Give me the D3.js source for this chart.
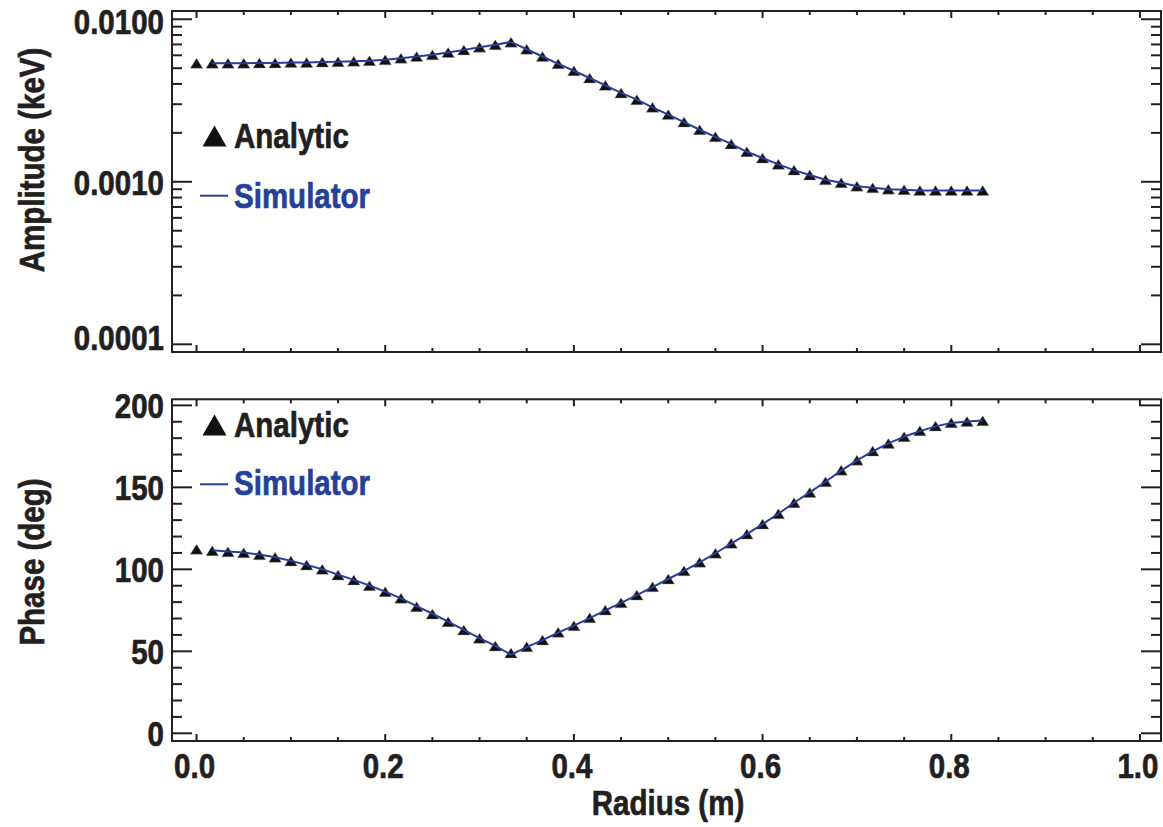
<!DOCTYPE html>
<html>
<head>
<meta charset="utf-8">
<script src="https://cdn.jsdelivr.net/npm/d3@7"></script>
<style>
    body { margin: 0; background: #fff; }
    svg { display: block; }
    text { font-family: "Liberation Sans", Arial, sans-serif; font-weight: bold; font-size: 36px; fill: #231f20; stroke: #231f20; stroke-width: 0.7px; }
</style>
</head>
<body>
<svg width="1163" height="827"></svg>
<script>
// radius points, every 1/60 m from 0 to 0.8333
const radius = [0, 0.0167, 0.0333, 0.05, 0.0667, 0.0833, 0.1, 0.1167, 0.1333, 0.15, 0.1667, 0.1833, 0.2,
    0.2167, 0.2333, 0.25, 0.2667, 0.2833, 0.3, 0.3167, 0.3333, 0.35, 0.3667, 0.3833, 0.4, 0.4167, 0.4333,
    0.45, 0.4667, 0.4833, 0.5, 0.5167, 0.5333, 0.55, 0.5667, 0.5833, 0.6, 0.6167, 0.6333, 0.65, 0.6667,
    0.6833, 0.7, 0.7167, 0.7333, 0.75, 0.7667, 0.7833, 0.8, 0.8167, 0.8333];

const ampAnalytic = [0.00536, 0.00536, 0.00536, 0.00537, 0.00538, 0.00539, 0.00541, 0.00542, 0.00545, 0.00547,
    0.00551, 0.00556, 0.00563, 0.00576, 0.00590, 0.00604, 0.00624, 0.00648, 0.00673, 0.00696, 0.00723,
    0.00654, 0.00590, 0.00532, 0.00482, 0.00435, 0.00392, 0.00352, 0.00320, 0.00287, 0.00259, 0.00233,
    0.00209, 0.00189, 0.00171, 0.00153, 0.00140, 0.00128, 0.00118, 0.00110, 0.00103, 0.000986, 0.000940,
    0.000919, 0.000901, 0.000893, 0.000885, 0.000884, 0.000884, 0.000884, 0.000884];

const phaseAnalytic = [112.2, 111.3, 110.7, 110.1, 108.9, 107.3, 105.1, 102.6, 100.0, 96.5, 93.5, 90.0, 86.4,
    82.3, 77.2, 72.7, 68.0, 63.0, 57.9, 53.2, 49.0, 52.8, 56.9, 61.6, 65.6, 70.5, 75.2, 79.6, 84.3, 89.4,
    94.1, 99.1, 104.3, 109.8, 115.9, 121.5, 127.6, 133.9, 140.6, 146.9, 153.4, 160.5, 166.6, 172.1, 176.8,
    180.9, 184.5, 187.4, 189.4, 190.2, 190.6];

// simulator starts at the second radius point
const simRadius = [0.0167, 0.0333, 0.05, 0.0667, 0.0833, 0.1, 0.1167, 0.1333, 0.15, 0.1667, 0.1833, 0.2,
    0.2167, 0.2333, 0.25, 0.2667, 0.2833, 0.3, 0.3167, 0.3333, 0.35, 0.3667, 0.3833, 0.4, 0.4167, 0.4333,
    0.45, 0.4667, 0.4833, 0.5, 0.5167, 0.5333, 0.55, 0.5667, 0.5833, 0.6, 0.6167, 0.6333, 0.65, 0.6667,
    0.6833, 0.7, 0.7167, 0.7333, 0.75, 0.7667, 0.7833, 0.8, 0.8167, 0.8333];

const ampSimulator = [0.00537, 0.00537, 0.00537, 0.00538, 0.00539, 0.00541, 0.00542, 0.00545, 0.00547,
    0.00551, 0.00556, 0.00563, 0.00576, 0.00590, 0.00604, 0.00624, 0.00648, 0.00673, 0.00696, 0.00725,
    0.00654, 0.00590, 0.00532, 0.00482, 0.00435, 0.00392, 0.00352, 0.00320, 0.00287, 0.00259, 0.00233,
    0.00209, 0.00189, 0.00171, 0.00153, 0.00140, 0.00128, 0.00118, 0.00110, 0.00103, 0.000986, 0.000940,
    0.000919, 0.000901, 0.000893, 0.000885, 0.000884, 0.000884, 0.000884, 0.000884];

const phaseSimulator = [111.6, 110.9, 110.2, 109.0, 107.4, 105.2, 102.7, 100.1, 96.8, 93.6, 90.1, 86.4,
    82.3, 77.6, 72.9, 68.1, 63.1, 58.1, 53.3, 48.0, 52.6, 56.8, 61.4, 65.7, 70.3, 75.0, 79.6, 84.3, 89.2,
    94.1, 99.1, 104.3, 109.8, 115.7, 121.5, 127.6, 133.9, 140.6, 146.9, 153.4, 160.2, 166.4, 172.0, 176.8,
    180.9, 184.3, 187.2, 189.2, 190.2, 190.7];

const xTicks = [0, 0.2, 0.4, 0.6, 0.8, 1.0];
const ampTicks = [0.01, 0.001, 0.0001];
const ampTickLabels = ["0.0100", "0.0010", "0.0001"];
const phaseTicks = [0, 50, 100, 150, 200];

const legendLabels = ["Analytic", "Simulator"];
const blue = "#26409a";

const svg = d3.select("svg");
const left = 172, right = 1161;

const x = d3.scaleLinear().domain([-0.026, 1.0223]).range([left, right]);
const yAmp = d3.scaleLog().domain([8.97e-5, 0.01124]).range([352, 11]);
const yPhase = d3.scaleLinear().domain([-4.7, 203.7]).range([741, 399.3]);

const tri = (w, h) => `M${-w / 2},${h / 2}L0,${-h / 2}L${w / 2},${h / 2}Z`;

// condensed bold look: squeeze Liberation Sans horizontally
const label = (parent, px, py, str, anchor, rot) =>
    parent.append("text")
        .attr("transform", `translate(${px},${py})${rot ? " rotate(" + rot + ")" : ""} scale(0.82,1)`)
        .attr("text-anchor", anchor || "start")
        .text(str);

const xMinor = d3.range(0, 1.0001, 0.05);
const ampMinor = [];
[0.0001, 0.001].forEach(d => d3.range(1, 10).forEach(k => ampMinor.push(d * k)));
ampMinor.push(0.01);
const phaseMinor = d3.range(0, 201, 10);

const drawPanel = (y, yMinor, yMajor, opts) => {
    const g = svg.append("g");
    const [y0, y1] = y.range();

    // ticks, all pointing inward
    const ticks = g.append("g").attr("stroke", "#231f20").attr("stroke-width", 2);
    xMinor.forEach(v => {
        const len = xTicks.some(t => Math.abs(t - v) < 1e-6) ? 7 : 4;
        ticks.append("line").attr("x1", x(v)).attr("x2", x(v)).attr("y1", y0).attr("y2", y0 - len);
        ticks.append("line").attr("x1", x(v)).attr("x2", x(v)).attr("y1", y1).attr("y2", y1 + len);
    });
    yMinor.forEach(v => {
        const len = yMajor.some(t => Math.abs(t - v) <= Math.abs(t) * 1e-6) ? 20 : 10;
        ticks.append("line").attr("x1", left).attr("x2", left + len).attr("y1", y(v)).attr("y2", y(v));
        ticks.append("line").attr("x1", right).attr("x2", right - len).attr("y1", y(v)).attr("y2", y(v));
    });

    g.append("rect")
        .attr("x", left).attr("y", y1)
        .attr("width", right - left).attr("height", y0 - y1)
        .attr("fill", "none").attr("stroke", "#231f20").attr("stroke-width", 2);

    // y tick labels, kept inside the frame
    yMajor.forEach((d, i) => {
        const cy = Math.max(y1 + opts.padTop, Math.min(y0 - opts.padBottom, y(d)));
        label(g, 164, cy + 13, opts.labels ? opts.labels[i] : d, "end");
    });

    label(g, 44, opts.titleY, opts.title, "middle", -90);

    g.append("g").selectAll("path").data(opts.analytic).enter().append("path")
        .attr("d", tri(12.5, 10))
        .attr("transform", (d, i) => `translate(${x(radius[i])},${y(d)})`)
        .attr("fill", "#111")
        .attr("stroke", "#999").attr("stroke-width", 0.4);

    g.append("path")
        .datum(opts.sim)
        .attr("d", d3.line().x((d, i) => x(simRadius[i])).y(d => y(d)))
        .attr("fill", "none")
        .attr("stroke", blue)
        .attr("stroke-width", 2);

    const lg = opts.legend;
    g.append("path")
        .attr("d", tri(24, 21))
        .attr("transform", `translate(214.5,${lg.tri})`)
        .attr("fill", "#111");
    label(g, 234, lg.a, legendLabels[0]);
    g.append("line")
        .attr("x1", 200).attr("x2", 228).attr("y1", lg.line).attr("y2", lg.line)
        .attr("stroke", blue).attr("stroke-width", 2);
    label(g, 234, lg.s, legendLabels[1]).style("fill", blue).style("stroke", blue);

    return g;
};

drawPanel(yAmp, ampMinor, ampTicks, {
    labels: ampTickLabels,
    padTop: 10, padBottom: 15,
    title: "Amplitude (keV)", titleY: 160,
    analytic: ampAnalytic, sim: ampSimulator,
    legend: {tri: 136, a: 148, line: 195.7, s: 207.5}
});

drawPanel(yPhase, phaseMinor, phaseTicks, {
    padTop: 4, padBottom: 0,
    title: "Phase (deg)", titleY: 562,
    analytic: phaseAnalytic, sim: phaseSimulator,
    legend: {tri: 425, a: 437, line: 484.3, s: 495}
});

const xAxis = svg.append("g");
xTicks.forEach(d => label(xAxis, x(d) - 2, 778, d.toFixed(1), "middle"));

label(svg, 668, 815, "Radius (m)", "middle");
</script>
</body>
</html>
